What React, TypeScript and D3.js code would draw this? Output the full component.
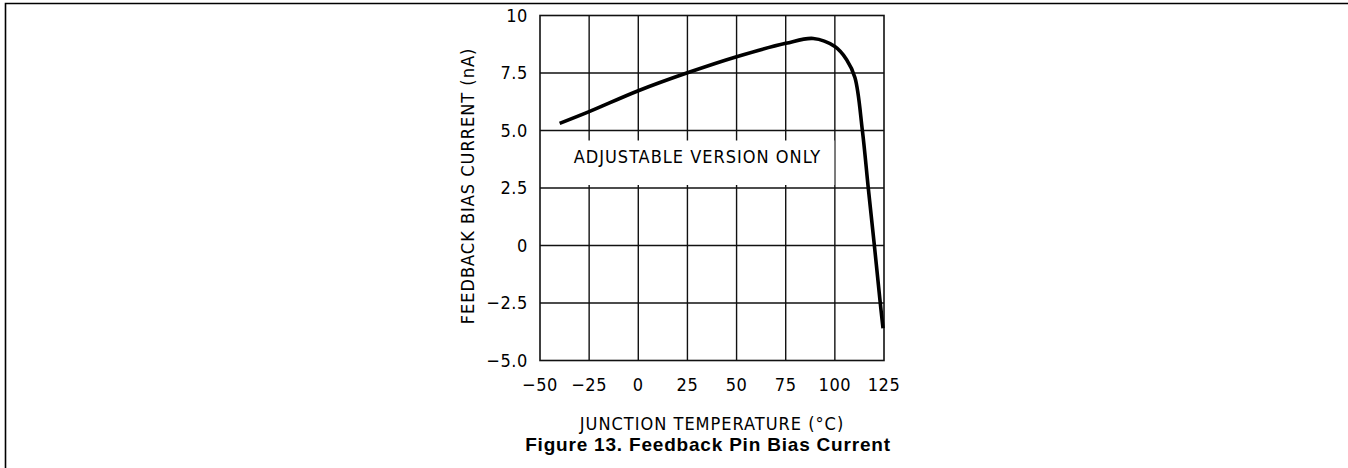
import { useEffect, useRef } from 'react'
import * as d3 from 'd3'

// Junction temperature (°C) and feedback bias current (nA)
const temps = [-40, -25, 0, 25, 50, 75, 89, 100, 106, 110.2, 114, 117, 120.1, 123.1, 124.5]
const biasCurrent = [5.31, 5.82, 6.73, 7.51, 8.21, 8.79, 9.0, 8.65, 8.08, 7.3, 5.0, 2.5, 0, -2.5, -3.6]

const xTicks = [-50, -25, 0, 25, 50, 75, 100, 125]
const yTicks = [-5, -2.5, 0, 2.5, 5, 7.5, 10]
const yTickLabels = ['-5.0', '-2.5', '0', '2.5', '5.0', '7.5', '10']

const W = 1348
const H = 468
const FONT = '"DejaVu Sans Condensed", "DejaVu Sans", sans-serif'

export default function App() {
  const svgRef = useRef<SVGSVGElement>(null)

  useEffect(() => {
    const svgEl = svgRef.current
    if (!svgEl) return
    const svg = d3.select(svgEl)
    svg.selectAll('*').remove()

    const margin = { top: 15.5, left: 540 }
    const innerW = 344
    const innerH = 345

    const x = d3.scaleLinear().domain([-50, 125]).range([0, innerW])
    const y = d3.scaleLinear().domain([-5, 10]).range([innerH, 0])

    // page frame (top + left rule)
    svg.append('path')
      .attr('d', `M5.5,${H} V3.5 H${W}`)
      .attr('fill', 'none')
      .style('stroke', '#000')
      .style('stroke-width', '1.6')

    const g = svg.append('g').attr('transform', `translate(${margin.left},${margin.top})`)

    // vertical grid
    g.append('g')
      .selectAll('line')
      .data(xTicks.slice(1, -1))
      .join('line')
      .attr('x1', d => x(d)).attr('x2', d => x(d))
      .attr('y1', 0).attr('y2', innerH)
      .style('stroke', '#111').style('stroke-width', '1.4')

    // horizontal grid
    g.append('g')
      .selectAll('line')
      .data(yTicks.slice(1, -1))
      .join('line')
      .attr('x1', 0).attr('x2', innerW)
      .attr('y1', d => y(d)).attr('y2', d => y(d))
      .style('stroke', '#111').style('stroke-width', '1.4')

    // white label box that interrupts the grid
    const boxTop = y(5) + 10
    const boxBottom = y(2.5) - 3
    g.append('rect')
      .attr('x', 1)
      .attr('y', boxTop)
      .attr('width', x(100) - 1.5)
      .attr('height', boxBottom - boxTop)
      .style('fill', '#fff')

    g.append('text')
      .attr('x', x(25) + 10)
      .attr('y', y(3.57))
      .attr('text-anchor', 'middle')
      .style('font-family', FONT)
      .style('font-size', '18px')
      .style('letter-spacing', '1px')
      .style('fill', '#000')
      .text('ADJUSTABLE VERSION ONLY')

    // plot border
    g.append('rect')
      .attr('x', 0).attr('y', 0)
      .attr('width', innerW).attr('height', innerH)
      .style('fill', 'none')
      .style('stroke', '#111').style('stroke-width', '1.6')

    // curve
    const pts = temps.map((t, i) => [t, biasCurrent[i]] as [number, number])
    const line = d3.line<[number, number]>()
      .x(d => x(d[0]))
      .y(d => y(d[1]))
      .curve(d3.curveCatmullRom.alpha(0.5))

    g.append('path')
      .datum(pts)
      .attr('d', line)
      .attr('fill', 'none')
      .style('stroke', '#000')
      .style('stroke-width', '3.6')

    // x tick labels
    g.append('g')
      .selectAll('text')
      .data(xTicks)
      .join('text')
      .attr('x', d => x(d))
      .attr('y', innerH + 30)
      .attr('text-anchor', 'middle')
      .style('font-family', FONT)
      .style('font-size', '18px')
      .style('letter-spacing', '0.6px')
      .style('fill', '#000')
      .text(d => (d < 0 ? `\u2212${-d}` : `${d}`))

    // y tick labels
    g.append('g')
      .selectAll('text')
      .data(yTicks)
      .join('text')
      .attr('x', -12)
      .attr('y', d => y(d))
      .attr('dy', '0.36em')
      .attr('text-anchor', 'end')
      .style('font-family', FONT)
      .style('font-size', '18px')
      .style('letter-spacing', '0.6px')
      .style('fill', '#000')
      .text((d, i) => yTickLabels[i].replace('-', '\u2212'))

    // axis titles
    g.append('text')
      .attr('x', innerW / 2)
      .attr('y', innerH + 69)
      .attr('text-anchor', 'middle')
      .style('font-family', FONT)
      .style('font-size', '18px')
      .style('letter-spacing', '1px')
      .style('fill', '#000')
      .text('JUNCTION TEMPERATURE (\u00B0C)')

    g.append('text')
      .attr('transform', 'rotate(-90)')
      .attr('x', -innerH / 2 + 2)
      .attr('y', -66)
      .attr('text-anchor', 'middle')
      .style('font-family', FONT)
      .style('font-size', '18px')
      .style('letter-spacing', '1px')
      .style('fill', '#000')
      .text('FEEDBACK BIAS CURRENT (nA)')

    // figure caption
    svg.append('text')
      .attr('x', 708)
      .attr('y', 451)
      .attr('text-anchor', 'middle')
      .style('font-family', '"Liberation Sans", Arial, sans-serif')
      .style('font-weight', 'bold')
      .style('font-size', '19px')
      .style('letter-spacing', '0.8px')
      .style('fill', '#000')
      .text('Figure 13. Feedback Pin Bias Current')
  }, [])

  return (
    <svg
      ref={svgRef}
      width={W}
      height={H}
      style={{ position: 'absolute', left: 0, top: 0, background: '#fff' }}
    />
  )
}
